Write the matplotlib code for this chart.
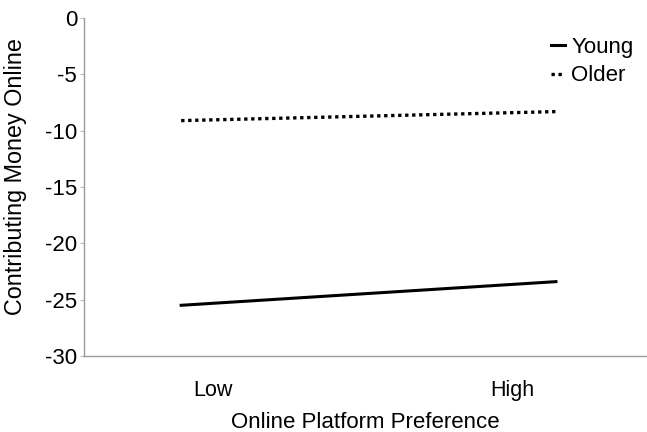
import matplotlib

matplotlib.use("Agg")
import matplotlib.pyplot as plt

plt.rcParams["font.family"] = ["Liberation Sans", "DejaVu Sans"]

preference = [0, 1]
young = [-25.5, -23.4]
older = [-9.1, -8.3]
tick_positions = [0.085, 0.883]
tick_labels = ["Low", "High"]
y_ticks = [0, -5, -10, -15, -20, -25, -30]

figure = plt.figure(figsize=(6.47, 4.32), dpi=100)
axis = figure.add_axes([0.13, 0.176, 0.87, 0.782])

axis.plot(preference, young, color="black", linewidth=2.2, label="Young")
axis.plot(preference, older, color="black", linewidth=2.4, linestyle=(0, (1, 1.1)),
          label="Older")

axis.set_xlim(-0.259, 1.243)
axis.set_ylim(-30, 0)
axis.set_yticks(y_ticks)
axis.set_yticklabels([str(v) for v in y_ticks])
axis.set_xticks(tick_positions)
axis.set_xticklabels(tick_labels)
axis.tick_params(axis="x", length=0, pad=17, labelsize=15.5)
axis.tick_params(axis="y", length=3, color="#bbbbbb", labelsize=16, pad=2)

for side in ("top", "right"):
    axis.spines[side].set_visible(False)
for side in ("left", "bottom"):
    axis.spines[side].set_color("#999999")
    axis.spines[side].set_linewidth(1.0)

axis.set_xlabel("Online Platform Preference", fontsize=16, labelpad=8)
axis.set_ylabel("Contributing Money Online", fontsize=16.8)
axis.yaxis.set_label_coords(-0.101, 0.53)

axis.legend(loc="upper right", frameon=False, fontsize=16, handlelength=0.6,
            handletextpad=0.3, borderaxespad=0.2, labelspacing=0.35,
            bbox_to_anchor=(1.0, 0.985))

figure.savefig("out.png", dpi=100)
